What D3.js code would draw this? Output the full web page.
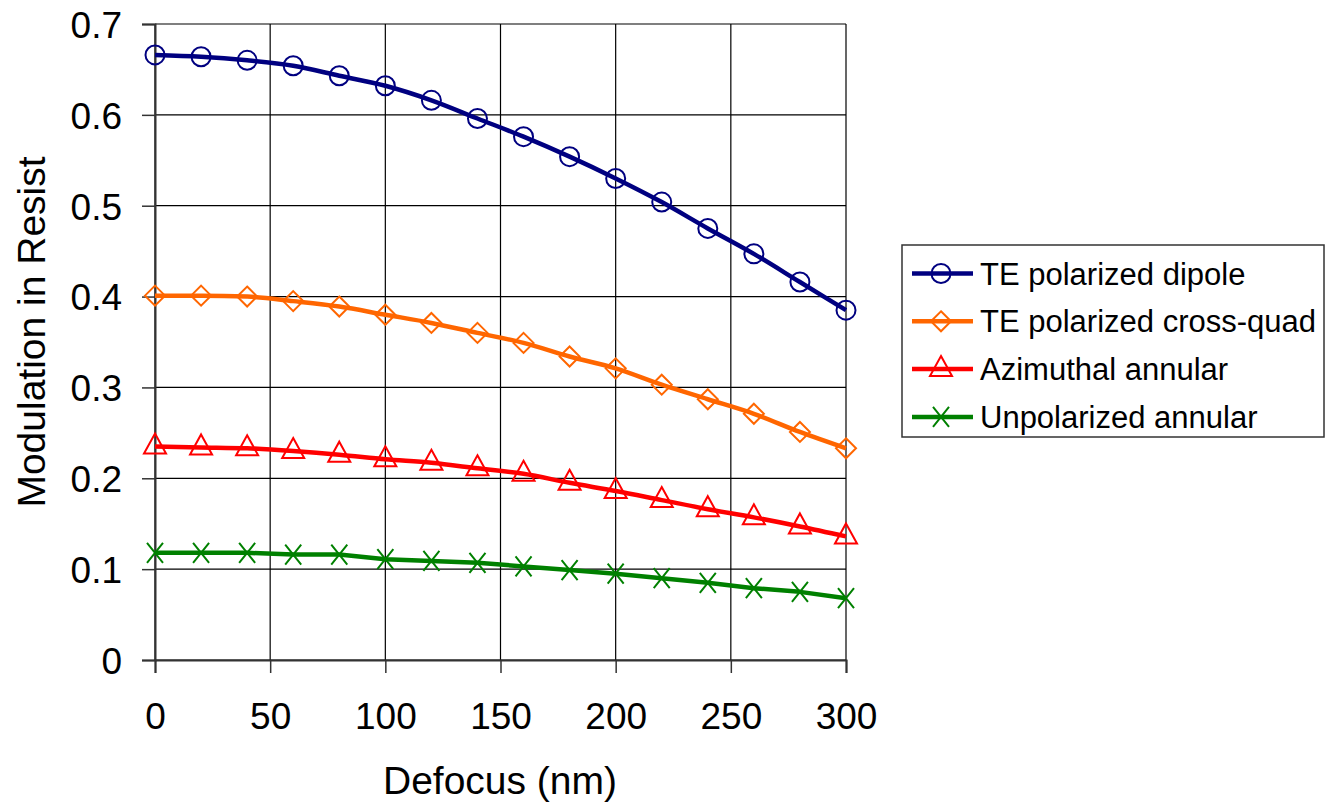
<!DOCTYPE html>
<html>
<head>
<meta charset="utf-8">
<script src="https://cdn.jsdelivr.net/npm/d3@7"></script>
<style>
  html, body { margin: 0; padding: 0; background: #fff; }
  text { font-family: "Liberation Sans", Arial, sans-serif; fill: #000; }
</style>
</head>
<body>
<svg id="chart" width="1328" height="803"></svg>
<script>
const defocus = [0, 20, 40, 60, 80, 100, 120, 140, 160, 180, 200, 220, 240, 260, 280, 300];
const teDipole = [0.666, 0.664, 0.660, 0.654, 0.643, 0.632, 0.616, 0.596, 0.576, 0.554, 0.530, 0.504, 0.475, 0.447, 0.416, 0.385];
const teCrossQuad = [0.401, 0.401, 0.400, 0.395, 0.389, 0.380, 0.371, 0.360, 0.349, 0.334, 0.321, 0.303, 0.287, 0.271, 0.251, 0.233];
const azimuthalAnnular = [0.235, 0.234, 0.233, 0.230, 0.226, 0.221, 0.217, 0.211, 0.205, 0.195, 0.186, 0.176, 0.166, 0.157, 0.147, 0.136];
const unpolarizedAnnular = [0.118, 0.118, 0.118, 0.116, 0.116, 0.111, 0.109, 0.107, 0.103, 0.099, 0.095, 0.090, 0.085, 0.079, 0.075, 0.068];
const seriesNames = ["TE polarized dipole", "TE polarized cross-quad", "Azimuthal annular", "Unpolarized annular"];
const seriesColors = ["#000080", "#FF6600", "#FF0000", "#008000"];
const seriesMarkers = ["circle", "diamond", "triangle", "x"];
const xTicks = [0, 50, 100, 150, 200, 250, 300];
const yTicks = [0, 0.1, 0.2, 0.3, 0.4, 0.5, 0.6, 0.7];
const xTitle = "Defocus (nm)";
const yTitle = "Modulation in Resist";

const seriesValues = [teDipole, teCrossQuad, azimuthalAnnular, unpolarizedAnnular];

const svg = d3.select("#chart");
const plot = {left: 155, right: 846, top: 24, bottom: 660};
const x = d3.scaleLinear().domain([0, 300]).range([plot.left, plot.right]);
const y = d3.scaleLinear().domain([0, 0.7]).range([plot.bottom, plot.top]);

// gridlines
const grid = svg.append("g");
grid.selectAll("line.h").data(yTicks).join("line")
  .attr("x1", plot.left).attr("x2", plot.right)
  .attr("y1", d => y(d)).attr("y2", d => y(d))
  .attr("stroke", "#000").attr("stroke-width", 1.2);
grid.selectAll("line.v").data(xTicks).join("line")
  .attr("y1", plot.top).attr("y2", plot.bottom)
  .attr("x1", d => x(d)).attr("x2", d => x(d))
  .attr("stroke", "#000").attr("stroke-width", 1.2);

// axes
const xAxis = svg.append("g").attr("transform", `translate(0,${plot.bottom})`)
  .call(d3.axisBottom(x).tickValues(xTicks).tickSize(13).tickPadding(30).tickFormat(d3.format("d")));
const yAxis = svg.append("g").attr("transform", `translate(${plot.left},0)`)
  .call(d3.axisLeft(y).tickValues(yTicks).tickSize(13).tickPadding(20).tickFormat(d => d === 0 ? "0" : d3.format(".1f")(d)));
[xAxis, yAxis].forEach(a => {
  a.select(".domain").attr("stroke", "#333").attr("stroke-width", 2);
  a.selectAll(".tick line").attr("stroke", "#333").attr("stroke-width", 1.5);
  a.selectAll(".tick text").style("font-family", '"Liberation Sans", Arial, sans-serif').style("font-size", "37px").attr("fill", "#000");
});
xAxis.selectAll(".tick text").attr("dy", "0.71em");
yAxis.selectAll(".tick text").attr("dy", "0.36em");

// titles
svg.append("text").attr("x", 500).attr("y", 794).attr("text-anchor", "middle")
  .style("font-size", "39px").text(xTitle);
svg.append("text").attr("transform", "translate(45,332) rotate(-90)").attr("text-anchor", "middle")
  .style("font-size", "39px").text(yTitle);

// markers
function drawMarker(g, type, color) {
  if (type === "circle") {
    g.append("circle").attr("r", 9.5).attr("fill", "none").attr("stroke", color).attr("stroke-width", 2);
  } else if (type === "diamond") {
    g.append("path").attr("d", "M0,-10L10,0L0,10L-10,0Z").attr("fill", "none").attr("stroke", color).attr("stroke-width", 2);
  } else if (type === "triangle") {
    g.append("path").attr("d", "M0,-13L11,7L-11,7Z").attr("fill", "none").attr("stroke", color).attr("stroke-width", 2);
  } else if (type === "x") {
    g.append("path").attr("d", "M-8,-10L8,10M-8,10L8,-10").attr("fill", "none").attr("stroke", color).attr("stroke-width", 2);
  }
}

const line = d3.line().x(d => x(d[0])).y(d => y(d[1]));
seriesValues.forEach((vals, i) => {
  const pts = defocus.map((d, j) => [d, vals[j]]);
  const g = svg.append("g");
  g.append("path").datum(pts)
    .attr("d", i === 3 ? line.curve(d3.curveLinear)(pts) : line.curve(d3.curveMonotoneX)(pts))
    .attr("fill", "none").attr("stroke", seriesColors[i]).attr("stroke-width", 4.5)
    .attr("stroke-linejoin", "round");
  pts.forEach(p => {
    const m = g.append("g").attr("transform", `translate(${x(p[0])},${y(p[1])})`);
    drawMarker(m, seriesMarkers[i], seriesColors[i]);
  });
});

// legend
const lg = svg.append("g");
lg.append("rect").attr("x", 902).attr("y", 245).attr("width", 422).attr("height", 192)
  .attr("fill", "#fff").attr("stroke", "#333").attr("stroke-width", 1.5);
seriesNames.forEach((name, i) => {
  const cy = 273.5 + i * 47.8;
  const row = lg.append("g");
  row.append("line").attr("x1", 912).attr("x2", 973).attr("y1", cy).attr("y2", cy)
    .attr("stroke", seriesColors[i]).attr("stroke-width", 4.5);
  const m = row.append("g").attr("transform", `translate(941,${cy})`);
  drawMarker(m, seriesMarkers[i], seriesColors[i]);
  row.append("text").attr("x", 980).attr("y", cy).attr("dy", "0.36em")
    .style("font-size", "31px").text(name);
});
</script>
</body>
</html>
